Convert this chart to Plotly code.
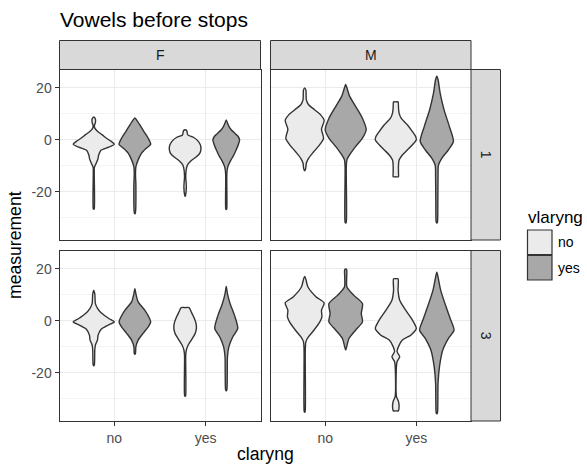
import plotly.graph_objects as go

# ---------------- data ----------------
sexes = ["F", "M"]
rows = ["1", "3"]
claryng_levels = ["no", "yes"]
vlaryng_levels = ["no", "yes"]
y_major = [-20, 0, 20]

# violin profiles: measurement levels and relative density (1 = widest violin)
F1_no_no_y = [8.8, 8.0, 6.7, 5.4, 4.5, 3.2, 2.0, 0.6, -0.6, -1.7, -2.8, -4.1, -5.8, -7.4, -9.3, -10.6, -12.9, -26.5, -26.7]
F1_no_no_d = [0, .08, .08, .03, .05, .19, .40, .62, .85, 1.0, .73, .34, .24, .20, .10, .03, .024, .024, 0]
F1_no_yes_y = [8.4, 7.7, 5.8, 3.2, 0.6, -1.7, -3.2, -5.2, -7.7, -10.3, -12.9, -17.4, -28.1, -28.4]
F1_no_yes_d = [0, .08, .24, .44, .65, .77, .56, .32, .16, .05, .03, .05, .024, 0]
F1_yes_no_y = [3.9, 3.5, 1.9, 1.0, -0.3, -1.9, -3.6, -5.2, -6.7, -8.0, -9.7, -11.6, -14.2, -18.1, -21.3, -21.7]
F1_yes_no_d = [0, .08, .13, .40, .61, .74, .77, .71, .52, .29, .11, .05, .03, .06, .02, 0]
F1_yes_yes_y = [7.7, 6.5, 5.2, 3.9, 2.3, 1.3, 0.0, -1.3, -2.6, -3.9, -5.8, -7.7, -10.3, -12.9, -26.5, -26.8]
F1_yes_yes_d = [0, .06, .13, .24, .45, .58, .65, .61, .55, .48, .37, .23, .08, .03, .024, 0]

M1_no_no_y = [20.0, 19.1, 15.5, 13.5, 11.6, 9.7, 7.5, 4.1, 0.6, -1.9, -4.5, -7.1, -9.0, -11.0, -11.9]
M1_no_no_d = [0, .06, .08, .19, .48, .77, .95, .82, .92, .73, .45, .19, .08, .05, 0]
M1_no_yes_y = [21.3, 20.0, 16.8, 12.9, 8.4, 3.9, 0.6, -2.6, -5.8, -7.7, -10.3, -31.6, -32.0]
M1_no_yes_d = [0, .06, .19, .48, .81, 1.0, .81, .48, .19, .06, .03, .03, 0]
M1_yes_no_y = [14.6, 14.6, 12.3, 10.3, 8.4, 5.8, 3.2, 1.3, 0.0, -1.9, -3.9, -5.8, -7.7, -9.7, -12.9, -14.2, -14.2]
M1_yes_no_d = [0, .11, .13, .16, .26, .56, .81, .97, 1.0, .81, .56, .32, .16, .13, .13, .13, 0]
M1_yes_yes_y = [24.5, 23.2, 18.1, 11.6, 5.2, -0.6, -3.9, -7.1, -9.7, -14.2, -23.2, -31.6, -32.0]
M1_yes_yes_d = [0, .06, .16, .35, .61, .81, .56, .24, .08, .06, .05, .03, 0]

F3_no_no_y = [11.7, 10.4, 6.6, 4.7, 2.8, 0.9, -0.4, -1.7, -3.3, -5.5, -7.4, -9.3, -11.2, -16.9, -17.3]
F3_no_no_d = [0, .05, .08, .19, .40, .73, 1.0, .68, .35, .21, .18, .08, .05, .03, 0]
F3_no_yes_y = [12.4, 10.4, 7.3, 4.1, 1.5, -0.4, -2.3, -4.8, -7.4, -9.9, -12.5, -12.9]
F3_no_yes_d = [0, .05, .16, .48, .68, .77, .65, .40, .16, .05, .03, 0]
F3_yes_no_y = [5.1, 5.1, 3.4, 0.9, -1.0, -2.9, -5.0, -7.0, -9.3, -11.2, -13.1, -28.8, -29.0]
F3_yes_no_d = [0, .19, .30, .45, .53, .55, .48, .33, .15, .06, .03, .024, 0]
F3_yes_yes_y = [13.2, 10.4, 6.6, 2.2, -2.9, -6.1, -9.9, -13.8, -20.1, -26.5, -26.9]
F3_yes_yes_d = [0, .06, .19, .40, .56, .32, .13, .06, .05, .03, 0]

M3_no_no_y = [17.1, 16.2, 13.0, 9.2, 6.9, 4.1, 1.5, -0.4, -3.6, -6.1, -8.0, -11.2, -34.8, -35.2]
M3_no_no_d = [0, .05, .16, .56, .95, .82, .84, .74, .45, .19, .06, .03, .024, 0]
M3_no_yes_y = [20.0, 19.6, 13.0, 9.8, 6.6, 2.8, -0.4, -3.6, -6.8, -9.9, -11.2]
M3_no_yes_d = [0, .05, .06, .40, .82, .76, .82, .48, .16, .05, 0]
M3_yes_no_y = [16.2, 16.2, 11.7, 7.9, 4.1, 0.3, -2.9, -5.5, -7.4, -9.9, -11.8, -13.8, -15.7, -17.6, -29.0, -31.0, -32.9, -34.6, -34.6]
M3_yes_no_d = [0, .11, .11, .19, .48, .81, 1.0, .73, .32, .13, .06, .19, .06, .03, .03, .13, .16, .12, 0]
M3_yes_yes_y = [18.7, 16.8, 11.7, 5.4, 0.3, -3.6, -6.8, -11.2, -17.6, -23.9, -30.3, -35.4, -35.7]
M3_yes_yes_d = [0, .06, .19, .45, .68, .84, .56, .29, .13, .06, .05, .03, 0]

violins = {
    ("F", "1", "no", "no"): (F1_no_no_y, F1_no_no_d),
    ("F", "1", "no", "yes"): (F1_no_yes_y, F1_no_yes_d),
    ("F", "1", "yes", "no"): (F1_yes_no_y, F1_yes_no_d),
    ("F", "1", "yes", "yes"): (F1_yes_yes_y, F1_yes_yes_d),
    ("M", "1", "no", "no"): (M1_no_no_y, M1_no_no_d),
    ("M", "1", "no", "yes"): (M1_no_yes_y, M1_no_yes_d),
    ("M", "1", "yes", "no"): (M1_yes_no_y, M1_yes_no_d),
    ("M", "1", "yes", "yes"): (M1_yes_yes_y, M1_yes_yes_d),
    ("F", "3", "no", "no"): (F3_no_no_y, F3_no_no_d),
    ("F", "3", "no", "yes"): (F3_no_yes_y, F3_no_yes_d),
    ("F", "3", "yes", "no"): (F3_yes_no_y, F3_yes_no_d),
    ("F", "3", "yes", "yes"): (F3_yes_yes_y, F3_yes_yes_d),
    ("M", "3", "no", "no"): (M3_no_no_y, M3_no_no_d),
    ("M", "3", "no", "yes"): (M3_no_yes_y, M3_no_yes_d),
    ("M", "3", "yes", "no"): (M3_yes_no_y, M3_yes_no_d),
    ("M", "3", "yes", "yes"): (M3_yes_yes_y, M3_yes_yes_d),
}

# ---------------- styling / layout ----------------
W, H = 587, 465
FONT = "Liberation Sans, Arial, Helvetica, sans-serif"
fill_colors = {"no": "#EBEBEB", "yes": "#A8A8A8"}
OUTLINE = "#333333"
GRID = "#EBEBEB"
DODGE = 0.225     # half of dodge width 0.45
HALF_MAX = 0.225  # max half-width of a violin

def px_x(p):
    return p / W

def px_y(p):
    return 1 - p / H

col_dom = {"F": [px_x(59.5), px_x(260.5)], "M": [px_x(270.5), px_x(471)]}
row_dom = {"1": [px_y(240), px_y(69.5)], "3": [px_y(421), px_y(250.5)]}

fig = go.Figure()

def axis_index(sex, row):
    return rows.index(row) * 2 + sexes.index(sex) + 1

for (sex, row, cl, vl), (ys, ds) in violins.items():
    idx = axis_index(sex, row)
    center = (claryng_levels.index(cl) + 1) + (-DODGE if vl == "no" else DODGE)
    xr = [center + d * HALF_MAX for d in ds]
    xl = [center - d * HALF_MAX for d in ds]
    xs = xr + xl[-2::-1]
    yy = list(ys) + list(ys)[-2::-1]
    fig.add_trace(go.Scatter(
        x=xs, y=yy, mode="lines", fill="toself",
        fillcolor=fill_colors[vl],
        line=dict(color=OUTLINE, width=1.4, shape="spline", smoothing=0.7),
        xaxis="x" if idx == 1 else f"x{idx}",
        yaxis="y" if idx == 1 else f"y{idx}",
        showlegend=False, hoverinfo="skip",
    ))

layout = dict(
    width=W, height=H,
    margin=dict(l=0, r=0, t=0, b=0),
    paper_bgcolor="white", plot_bgcolor="white",
    font=dict(family=FONT, color="#000000"),
    showlegend=False,
)

for sex in sexes:
    for row in rows:
        idx = axis_index(sex, row)
        sfx = "" if idx == 1 else str(idx)
        bottom = row == rows[-1]
        left = sex == sexes[0]
        layout["xaxis" + sfx] = dict(
            domain=col_dom[sex], anchor="y" + sfx, range=[0.4, 2.6],
            tickmode="array", tickvals=[1, 2], ticktext=claryng_levels,
            showticklabels=bottom, ticks="outside" if bottom else "",
            ticklen=4, tickwidth=1, tickcolor=OUTLINE,
            tickfont=dict(size=14, color="#4D4D4D", family=FONT),
            showgrid=True, gridcolor=GRID, gridwidth=1.1, zeroline=False,
            showline=True, mirror=True, linecolor=OUTLINE, linewidth=1,
            fixedrange=True,
        )
        layout["yaxis" + sfx] = dict(
            domain=row_dom[row], anchor="x" + sfx, range=[-38.5, 27.05],
            tickmode="array", tickvals=y_major, ticktext=[str(v) for v in y_major],
            showticklabels=left, ticks="outside" if left else "",
            ticklen=4, tickwidth=1, tickcolor=OUTLINE,
            tickfont=dict(size=14, color="#4D4D4D", family=FONT),
            showgrid=True, gridcolor=GRID, gridwidth=1.1, zeroline=False,
            minor=dict(tick0=-30, dtick=20, showgrid=True, gridcolor=GRID,
                       gridwidth=0.55, ticks=""),
            showline=True, mirror=True, linecolor=OUTLINE, linewidth=1,
            fixedrange=True,
        )

shapes = []
annotations = []

# facet strips
for sex in sexes:
    x0, x1 = (59.5, 260.5) if sex == "F" else (270.5, 471)
    shapes.append(dict(type="rect", xref="paper", yref="paper",
                       x0=px_x(x0), x1=px_x(x1), y0=px_y(69.5), y1=px_y(40.5),
                       fillcolor="#D9D9D9", line=dict(color=OUTLINE, width=1)))
    annotations.append(dict(text=sex, xref="paper", yref="paper",
                            x=px_x((x0 + x1) / 2), y=px_y(55), showarrow=False,
                            xanchor="center", yanchor="middle",
                            font=dict(size=14, color="#1A1A1A", family=FONT)))
for row in rows:
    y0, y1 = (69.5, 240) if row == "1" else (250.5, 421)
    shapes.append(dict(type="rect", xref="paper", yref="paper",
                       x0=px_x(471), x1=px_x(500.5), y0=px_y(y1), y1=px_y(y0),
                       fillcolor="#D9D9D9", line=dict(color=OUTLINE, width=1)))
    annotations.append(dict(text=row, xref="paper", yref="paper",
                            x=px_x(486), y=px_y((y0 + y1) / 2), showarrow=False,
                            textangle=90, xanchor="center", yanchor="middle",
                            font=dict(size=14, color="#1A1A1A", family=FONT)))

# title & axis titles
annotations.append(dict(text="Vowels before stops", xref="paper", yref="paper",
                        x=px_x(58), y=px_y(20), showarrow=False,
                        xanchor="left", yanchor="middle",
                        font=dict(size=21, color="#000000", family=FONT)))
annotations.append(dict(text="measurement", xref="paper", yref="paper",
                        x=px_x(15), y=px_y(245), showarrow=False, textangle=-90,
                        xanchor="center", yanchor="middle",
                        font=dict(size=17.6, color="#000000", family=FONT)))
annotations.append(dict(text="claryng", xref="paper", yref="paper",
                        x=px_x(265), y=px_y(454), showarrow=False,
                        xanchor="center", yanchor="middle",
                        font=dict(size=17.6, color="#000000", family=FONT)))

# legend (drawn manually)
annotations.append(dict(text="vlaryng", xref="paper", yref="paper",
                        x=px_x(526), y=px_y(217), showarrow=False,
                        xanchor="left", yanchor="middle",
                        font=dict(size=17, color="#000000", family=FONT)))
key_tops = [230, 255.5]
for lvl, top in zip(vlaryng_levels, key_tops):
    shapes.append(dict(type="rect", xref="paper", yref="paper",
                       x0=px_x(527.5), x1=px_x(552), y0=px_y(top + 24.5), y1=px_y(top),
                       fillcolor=fill_colors[lvl], line=dict(color=OUTLINE, width=1.2)))
    annotations.append(dict(text=lvl, xref="paper", yref="paper",
                            x=px_x(556), y=px_y(top + 12), showarrow=False,
                            xanchor="left", yanchor="middle",
                            font=dict(size=14, color="#000000", family=FONT)))

layout["shapes"] = shapes
layout["annotations"] = annotations
fig.update_layout(**layout)

fig.write_html(
    "out.html",
    config={"displayModeBar": False, "staticPlot": True},
    post_script="document.body.style.margin='0';document.body.style.overflow='hidden';",
)
